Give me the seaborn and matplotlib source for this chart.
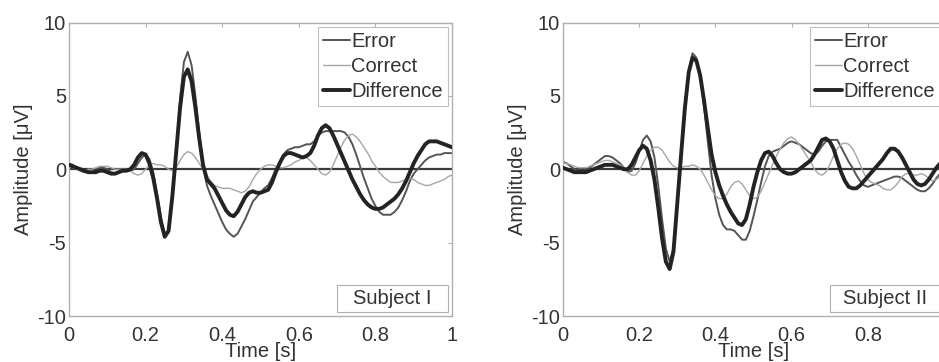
import numpy as np
import pandas as pd
import matplotlib
matplotlib.use("Agg")
import matplotlib.pyplot as plt
from matplotlib.patches import Rectangle
import seaborn as sns

# ---------------- data ----------------
time_s = np.round(np.linspace(0.0, 1.0, 101), 2)

s1_error = [0.4, 0.3, 0.1, -0.1, -0.2, -0.2, -0.2, -0.1, 0.1, 0.1,
            0.0, -0.2, -0.3, -0.2, -0.1, -0.1, -0.1, 0.0, 0.4, 0.8,
            1.0, 0.7, -0.2, -1.7, -3.3, -4.4, -4.2, -1.9, 1.3, 4.8,
            7.3, 8.0, 7.1, 5.0, 2.5, 0.3, -1.1, -1.8, -2.4, -3.0,
            -3.6, -4.1, -4.4, -4.6, -4.4, -3.9, -3.4, -2.8, -2.2, -1.9,
            -1.6, -1.3, -1.1, -0.6, 0.0, 0.5, 1.0, 1.3, 1.4, 1.5,
            1.5, 1.6, 1.7, 1.7, 1.9, 2.3, 2.5, 2.6, 2.6, 2.6,
            2.6, 2.6, 2.5, 2.2, 1.7, 1.0, 0.2, -0.6, -1.3, -2.0,
            -2.5, -2.9, -3.1, -3.1, -3.1, -2.9, -2.6, -2.1, -1.5, -0.8,
            -0.3, 0.0, 0.3, 0.6, 0.8, 0.9, 1.0, 1.0, 1.1, 1.1,
            1.1]
s1_correct = [0.2, 0.1, 0.0, -0.1, -0.1, 0.0, 0.0, 0.1, 0.2, 0.2,
              0.2, 0.1, 0.0, 0.0, 0.0, 0.0, -0.1, -0.3, -0.4, -0.3,
              0.0, 0.3, 0.4, 0.3, 0.3, 0.2, 0.0, -0.1, 0.1, 0.6,
              1.0, 1.2, 1.1, 0.8, 0.4, 0.0, -0.4, -0.8, -1.1, -1.2,
              -1.3, -1.3, -1.3, -1.4, -1.5, -1.6, -1.5, -1.2, -0.7, -0.3,
              0.0, 0.2, 0.3, 0.3, 0.2, 0.1, 0.1, 0.2, 0.3, 0.5,
              0.6, 0.8, 0.8, 0.6, 0.3, 0.0, -0.3, -0.4, -0.2, 0.3,
              0.9, 1.5, 2.0, 2.3, 2.4, 2.2, 1.9, 1.5, 1.1, 0.6,
              0.2, -0.2, -0.5, -0.7, -0.9, -0.9, -0.9, -0.8, -0.7, -0.6,
              -0.7, -0.9, -1.0, -1.1, -1.1, -1.0, -0.9, -0.8, -0.7, -0.5,
              -0.4]
s1_difference = [0.3, 0.2, 0.1, 0.0, -0.1, -0.2, -0.2, -0.2, -0.1, -0.1,
                 -0.2, -0.3, -0.3, -0.2, -0.1, -0.1, 0.0, 0.3, 0.8, 1.1,
                 1.0, 0.4, -0.6, -2.0, -3.6, -4.6, -4.2, -1.8, 1.2, 4.2,
                 6.3, 6.8, 6.0, 4.2, 2.1, 0.3, -0.7, -1.0, -1.3, -1.8,
                 -2.3, -2.8, -3.1, -3.2, -2.9, -2.4, -1.9, -1.6, -1.5, -1.6,
                 -1.6, -1.5, -1.4, -0.9, -0.2, 0.4, 0.9, 1.1, 1.1, 1.0,
                 0.9, 0.8, 0.9, 1.1, 1.6, 2.3, 2.8, 3.0, 2.8, 2.3,
                 1.7, 1.1, 0.5, -0.1, -0.7, -1.2, -1.7, -2.1, -2.4, -2.6,
                 -2.7, -2.7, -2.6, -2.4, -2.2, -2.0, -1.7, -1.3, -0.8, -0.2,
                 0.4, 0.9, 1.3, 1.7, 1.9, 1.9, 1.9, 1.8, 1.7, 1.6,
                 1.5]

s2_error = [0.5, 0.4, 0.2, 0.0, -0.1, -0.1, -0.1, 0.1, 0.3, 0.5,
            0.7, 0.9, 0.9, 0.8, 0.6, 0.4, 0.1, -0.2, -0.1, 0.4,
            1.2, 2.0, 2.3, 1.9, 0.8, -1.1, -3.4, -5.4, -6.3, -5.4,
            -2.2, 1.1, 4.4, 6.8, 7.9, 7.6, 6.4, 4.3, 1.9, -0.4,
            -2.0, -3.1, -3.8, -4.1, -4.1, -4.2, -4.5, -4.8, -4.8, -4.2,
            -3.2, -2.1, -0.9, 0.2, 0.9, 1.2, 1.3, 1.4, 1.6, 1.8,
            1.9, 1.8, 1.7, 1.5, 1.3, 1.1, 1.0, 1.2, 1.6, 1.9,
            2.0, 2.0, 2.0, 1.5, 1.0, 0.5, 0.1, -0.4, -0.8, -1.1,
            -1.2, -1.1, -1.0, -0.9, -0.8, -0.7, -0.6, -0.5, -0.5, -0.6,
            -0.8, -1.0, -1.2, -1.4, -1.5, -1.5, -1.3, -1.0, -0.6, -0.3,
            0.0]
s2_correct = [0.4, 0.4, 0.3, 0.2, 0.1, 0.1, 0.1, 0.2, 0.3, 0.4,
              0.5, 0.6, 0.6, 0.5, 0.4, 0.3, 0.1, -0.2, -0.4, -0.4,
              -0.1, 0.4, 0.9, 1.3, 1.5, 1.5, 1.3, 0.9, 0.5, 0.2,
              0.1, 0.1, 0.2, 0.2, 0.3, 0.2, 0.0, -0.4, -0.9, -1.4,
              -1.8, -2.0, -2.0, -1.7, -1.2, -0.9, -0.8, -1.0, -1.4, -1.8,
              -2.0, -1.9, -1.5, -0.9, -0.3, 0.3, 0.9, 1.4, 1.8, 2.1,
              2.2, 2.0, 1.7, 1.3, 0.9, 0.5, 0.0, -0.3, -0.4, -0.2,
              0.3, 0.9, 1.4, 1.7, 1.8, 1.7, 1.4, 0.9, 0.3, -0.3,
              -0.7, -0.9, -1.0, -1.1, -1.3, -1.4, -1.4, -1.2, -0.9, -0.5,
              -0.3, -0.3, -0.4, -0.4, -0.3, -0.4, -0.6, -0.8, -0.7, -0.5,
              -0.3]
s2_difference = [0.1, 0.0, -0.1, -0.2, -0.2, -0.2, -0.2, -0.1, 0.0, 0.1,
                 0.2, 0.3, 0.3, 0.3, 0.2, 0.1, 0.0, 0.0, 0.3, 0.8,
                 1.3, 1.6, 1.4, 0.6, -0.7, -2.6, -4.7, -6.3, -6.8, -5.6,
                 -2.3, 1.0, 4.2, 6.6, 7.6, 7.4, 6.4, 4.7, 2.8, 1.0,
                 -0.2, -1.1, -1.8, -2.4, -2.9, -3.3, -3.7, -3.8, -3.4, -2.4,
                 -1.2, -0.2, 0.6, 1.1, 1.2, 0.9, 0.4, 0.0, -0.2, -0.3,
                 -0.3, -0.2, 0.0, 0.2, 0.4, 0.6, 1.0, 1.5, 2.0, 2.1,
                 1.9, 1.4, 0.6, -0.2, -0.8, -1.2, -1.3, -1.3, -1.1, -0.8,
                 -0.5, -0.2, 0.1, 0.4, 0.7, 1.1, 1.4, 1.4, 1.2, 0.8,
                 0.3, -0.2, -0.7, -1.0, -1.1, -1.0, -0.7, -0.3, 0.1, 0.4,
                 0.6]

series_names = ["Error", "Correct", "Difference"]
subject_labels = ["Subject I", "Subject II"]
x_ticks = [0, 0.2, 0.4, 0.6, 0.8, 1]
x_ticklabels = [["0", "0.2", "0.4", "0.6", "0.8", "1"],
                ["0", "0.2", "0.4", "0.6", "0.8", ""]]  # "1" falls off the canvas on the right
y_ticks = [-10, -5, 0, 5, 10]

# ---------------- style ----------------
sns.set_style("white")
plt.rcParams["font.family"] = ["Liberation Sans", "DejaVu Sans"]
plt.rcParams["axes.unicode_minus"] = False

styles = {
    "Error": dict(color="#555555", lw=1.4),
    "Correct": dict(color="#a6a6a6", lw=1.0),
    "Difference": dict(color="#232323", lw=2.8),
}
frame_col = "#b0b0b0"
text_col = "#333333"
fs = 14.5

fig = plt.figure(figsize=(9.39, 3.62), dpi=100)
ax_pos = [
    [69 / 939, 46 / 362, 383 / 939, 293.5 / 362],
    [563 / 939, 46 / 362, 381 / 939, 293.5 / 362],
]
panels = [
    (s1_error, s1_correct, s1_difference),
    (s2_error, s2_correct, s2_difference),
]

for i, (vals, pos) in enumerate(zip(panels, ax_pos)):
    ax = fig.add_axes(pos)
    df = pd.DataFrame({"t": time_s, "Error": vals[0], "Correct": vals[1],
                       "Difference": vals[2]})
    ax.axhline(0, color="#3a3a3a", lw=1.6, zorder=1)
    for name in series_names:
        sns.lineplot(data=df, x="t", y=name, ax=ax, label=name,
                     color=styles[name]["color"], linewidth=styles[name]["lw"],
                     zorder=3 if name == "Difference" else 2, legend=False)
    ax.set_xlim(0, 1)
    ax.set_ylim(-10, 10)
    ax.set_xticks(x_ticks)
    ax.set_xticklabels(x_ticklabels[i])
    ax.set_yticks(y_ticks)
    ax.set_yticklabels([str(v) for v in y_ticks])
    ax.tick_params(axis="both", direction="in", length=3, width=0.8,
                   color=frame_col, labelsize=fs, labelcolor=text_col,
                   top=True, right=True)
    ax.tick_params(axis="y", pad=2)
    ax.tick_params(axis="x", pad=7)
    for sp in ax.spines.values():
        sp.set_color(frame_col)
        sp.set_linewidth(1.0)
    ax.set_xlabel("Time [s]", fontsize=fs, color=text_col, labelpad=-2)
    ax.set_ylabel("Amplitude [\u03bcV]", fontsize=fs, color=text_col,
                  labelpad=3)
    leg = ax.legend(loc="upper right", fontsize=fs, frameon=True,
                    fancybox=False, handlelength=1.35, handletextpad=0.05,
                    borderpad=0.25, labelspacing=0.3, borderaxespad=0.2)
    leg.get_frame().set_edgecolor(frame_col)
    leg.get_frame().set_linewidth(0.8)
    for txt in leg.get_texts():
        txt.set_color(text_col)
    ax.add_patch(Rectangle((0.70, 0.012), 0.29, 0.094, transform=ax.transAxes,
                           facecolor="white", edgecolor=frame_col, lw=0.8,
                           zorder=4))
    ax.text(0.845, 0.059, subject_labels[i], transform=ax.transAxes,
            ha="center", va="center", fontsize=fs, color=text_col, zorder=5)

fig.savefig("out.png", dpi=100)
